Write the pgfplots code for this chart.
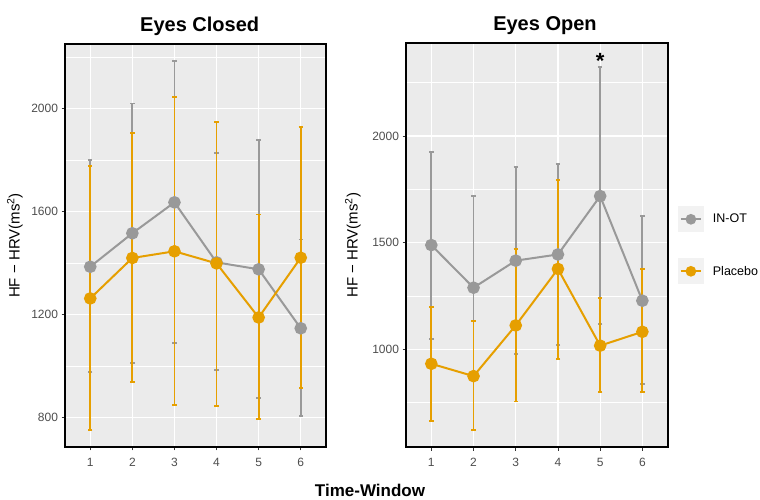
\documentclass[border=0pt]{standalone}
\usepackage{fontspec}
\setmainfont{Liberation Sans}
\usepackage{pgfplots}
\usepackage{pgfplotstable}
\pgfplotsset{compat=1.18}
\definecolor{ingray}{HTML}{999999}
\definecolor{placorange}{HTML}{E69F00}
\definecolor{panelbg}{HTML}{EBEBEB}
\definecolor{keybg}{HTML}{F2F2F2}
\definecolor{ticklab}{HTML}{4D4D4D}

% Eyes Closed
\pgfplotstableread{
x y lo hi
1 1385 975 1799
2 1515 1012 2019
3 1635 1090 2185
4 1402 984 1828
5 1375 875 1876
6 1146 805 1491
}\closedIN
\pgfplotstableread{
x y lo hi
1 1262 751 1776
2 1419 937 1905
3 1445 848 2043
4 1398 845 1948
5 1188 793 1588
6 1420 913 1927
}\closedPL
% Eyes Open
\pgfplotstableread{
x y lo hi
1 1488 1048 1923
2 1288 856 1720
3 1415 977 1853
4 1444 1019 1869
5 1718 1116 2325
6 1227 836 1624
}\openIN
\pgfplotstableread{
x y lo hi
1 931 664 1199
2 873 620 1133
3 1111 754 1470
4 1376 955 1795
5 1016 800 1238
6 1081 800 1374
}\openPL

\pgfplotsset{
  facet/.style={
    scale only axis, anchor=south west,
    xmin=0.4, xmax=6.6, xtick={1,2,3,4,5,6},
    tick align=outside, xtick pos=bottom, ytick pos=left,
    major tick length=3.5pt, minor tick length=0pt,
    tick style={black!80, line width=0.9pt},
    axis line style={black, line width=2.2pt},
    axis background/.style={fill=panelbg},
    xmajorgrids, ymajorgrids, yminorgrids,
    major grid style={white, line width=1.1pt},
    minor grid style={white, line width=0.55pt},
    /pgf/number format/assume math mode=true,
    /pgf/number format/1000 sep={},
    ticklabel style={font=\fontsize{12}{14}\selectfont, text=ticklab},
    xticklabel style={yshift=-4pt},
    every axis title/.style={anchor=base, font=\bfseries\fontsize{20}{24}\selectfont},
    every axis y label/.style={rotate=90, anchor=center, font=\fontsize{15}{18}\selectfont},
    ylabel={HF − HRV(ms\textsuperscript{2})},
  },
  ebar/.style={forget plot, draw=none, mark=none, line width=1.8pt,
    error bars/.cd, y dir=both, y explicit,
    error bar style={draw=#1, line width=1.8pt},
    error mark options={rotate=90, mark size=2.2pt, line width=1.8pt, draw=#1}},
  series/.style={#1, line width=2pt, mark=*, mark size=5.3pt, mark options={fill=#1, draw=none}},
}

\begin{document}
\begin{tikzpicture}
\useasboundingbox (0pt,0pt) rectangle (760pt,500pt);

\begin{axis}[facet, at={(65pt,53pt)}, width=261pt, height=403pt,
  ymin=685, ymax=2250, ytick={800,1200,1600,2000}, minor ytick={1000,1400,1800,2200},
  title={Eyes Closed}, title style={at={(0.516,1)}, yshift=12.3pt},
  ylabel style={at={(rel axis cs:-0.192,0.5)}}]
\addplot[ebar=ingray] table[x=x, y=y, y error plus expr=\thisrow{hi}-\thisrow{y}, y error minus expr=\thisrow{y}-\thisrow{lo}] {\closedIN};
\addplot[ebar=placorange] table[x=x, y=y, y error plus expr=\thisrow{hi}-\thisrow{y}, y error minus expr=\thisrow{y}-\thisrow{lo}] {\closedPL};
\addplot[series=ingray] table[x=x, y=y] {\closedIN};
\addplot[series=placorange] table[x=x, y=y] {\closedPL};
\end{axis}

\begin{axis}[facet, at={(406pt,52.7pt)}, width=261.7pt, height=404pt,
  ymin=539, ymax=2435, ytick={1000,1500,2000}, minor ytick={750,1250,1750,2250},
  title={Eyes Open}, title style={at={(0.531,1)}, yshift=12.3pt},
  ylabel style={at={(rel axis cs:-0.203,0.5)}},
  legend style={at={(1,0.5)}, anchor=west, xshift=10pt, draw=none, fill=none,
    inner sep=0pt, row sep=26pt, column sep=9pt,
    font=\fontsize{12.5}{15}\selectfont, nodes={inner sep=0pt}},
  legend cell align=left,
  legend image code/.code={
    \fill[keybg] (0pt,-12pt) rectangle (24pt,12pt);
    \draw[mark repeat=2, mark phase=2, #1, mark size=4.3pt] plot coordinates {(2pt,0pt) (12pt,0pt) (22pt,0pt)};
  }]
\addplot[ebar=ingray] table[x=x, y=y, y error plus expr=\thisrow{hi}-\thisrow{y}, y error minus expr=\thisrow{y}-\thisrow{lo}] {\openIN};
\addplot[ebar=placorange] table[x=x, y=y, y error plus expr=\thisrow{hi}-\thisrow{y}, y error minus expr=\thisrow{y}-\thisrow{lo}] {\openPL};
\addplot[series=ingray] table[x=x, y=y] {\openIN};
\addlegendentry{IN-OT}
\addplot[series=placorange] table[x=x, y=y] {\openPL};
\addlegendentry{Placebo}
\node[anchor=base, font=\bfseries\fontsize{22}{24}\selectfont] at (axis cs:5,2315) {*};
\end{axis}

\node[anchor=base, font=\bfseries\fontsize{17}{20}\selectfont] at (370pt,3.3pt) {Time-Window};
\end{tikzpicture}
\end{document}
